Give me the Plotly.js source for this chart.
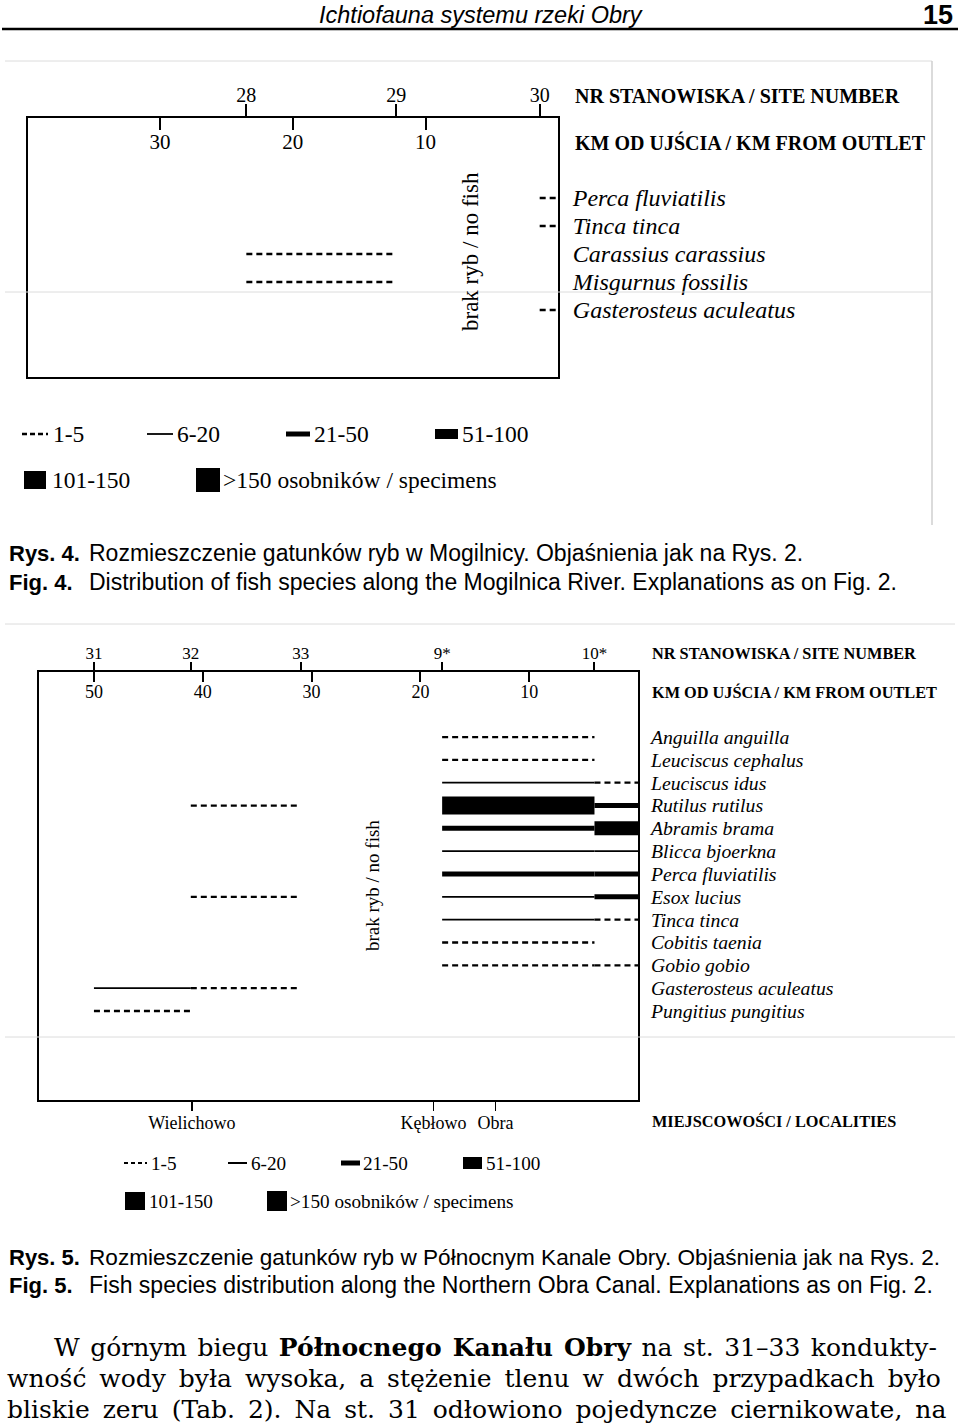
<!DOCTYPE html>
<html><head><meta charset="utf-8">
<script src="https://cdn.plot.ly/plotly-3.0.1.min.js"></script>
<style>html,body{margin:0;padding:0;background:#fff}#chart{width:960px;height:1425px}</style>
</head><body><div id="chart"></div>
<script>
// ---------- Fig. 4 data (Mogilnica) ----------
const fig4SiteLabels = ['28', '29', '30'];
const fig4SiteKm = [23.5, 12.2, 1.4];
const fig4KmTicks = [30, 20, 10];
const fig4Species = ['Perca fluviatilis', 'Tinca tinca', 'Carassius carassius', 'Misgurnus fossilis', 'Gasterosteus aculeatus'];
// abundance class per species at each site: 0 none, 1 '1-5', 2 '6-20', 3 '21-50', 4 '51-100', 5 '101-150', 6 '>150'
const fig4Site28 = [0, 0, 1, 1, 0];
const fig4Site29 = [0, 0, 0, 0, 0];
const fig4Site30 = [1, 1, 0, 0, 1];

// ---------- Fig. 5 data (Północny Kanał Obry) ----------
const fig5SiteLabels = ['31', '32', '33', '9*', '10*'];
const fig5SiteKm = [50, 41.1, 31.0, 18.0, 4.0];
const fig5KmTicks = [50, 40, 30, 20, 10];
const fig5Localities = ['Wielichowo', 'Kębłowo', 'Obra'];
const fig5LocalityKm = [41.0, 18.8, 13.1];
const fig5Species = ['Anguilla anguilla', 'Leuciscus cephalus', 'Leuciscus idus', 'Rutilus rutilus', 'Abramis brama',
  'Blicca bjoerkna', 'Perca fluviatilis', 'Esox lucius', 'Tinca tinca', 'Cobitis taenia', 'Gobio gobio',
  'Gasterosteus aculeatus', 'Pungitius pungitius'];
const fig5Site31 = [0, 0, 0, 0, 0, 0, 0, 0, 0, 0, 0, 2, 1];
const fig5Site32 = [0, 0, 0, 1, 0, 0, 0, 1, 0, 0, 0, 1, 0];
const fig5Site33 = [0, 0, 0, 0, 0, 0, 0, 0, 0, 0, 0, 0, 0];
const fig5Site9 = [1, 1, 2, 6, 3, 2, 3, 2, 2, 1, 1, 0, 0];
const fig5Site10 = [0, 0, 1, 3, 5, 2, 3, 3, 1, 0, 1, 0, 0];

const classLabels = ['1-5', '6-20', '21-50', '51-100', '101-150', '>150 osobników / specimens'];
const noFishLabel = 'brak ryb / no fish';

// ---------- styling ----------
const classWidth = [0, 2.3, 1.8, 5, 9, 14, 18];
const DASH = '6px,4px';
const SERIF = 'Liberation Serif, Times New Roman, serif';
const SANS = 'Liberation Sans, Arial, sans-serif';
const W = 960, H = 1425;
const X = px => px / W;
const Y = py => 1 - py / H;

function segTraces(species, siteKm, rows, endKm, xa, ya) {
  const out = [];
  rows.forEach((row, s) => {
    const x0 = siteKm[s];
    const x1 = s + 1 < siteKm.length ? siteKm[s + 1] : endKm;
    row.forEach((cls, i) => {
      if (!cls) return;
      out.push({
        type: 'scatter', mode: 'lines', x: [x0, x1], y: [i, i], xaxis: xa, yaxis: ya,
        line: {color: '#000', width: classWidth[cls], dash: cls === 1 ? DASH : 'solid'},
        hoverinfo: 'skip', showlegend: false, cliponaxis: false
      });
    });
  });
  return out;
}
// invisible carrier traces so that the overlaying tick axes are drawn
function carrier(xs, xa, ya) {
  return {type: 'scatter', mode: 'markers', x: xs, y: xs.map(() => null), xaxis: xa, yaxis: ya,
    marker: {opacity: 0}, hoverinfo: 'skip', showlegend: false};
}

const traces = [].concat(
  segTraces(fig4Species, fig4SiteKm, [fig4Site28, fig4Site29, fig4Site30], 0, 'x', 'y'),
  segTraces(fig5Species, fig5SiteKm, [fig5Site31, fig5Site32, fig5Site33, fig5Site9, fig5Site10], 0, 'x2', 'y2'),
  [carrier(fig4SiteKm, 'x3', 'y'), carrier(fig5SiteKm, 'x4', 'y2'), carrier(fig5LocalityKm, 'x5', 'y2')]
);

function ann(text, x, y, size, o) {
  o = o || {};
  return Object.assign({
    text: text, x: X(x), y: Y(y), xref: 'paper', yref: 'paper',
    xanchor: 'left', yanchor: 'middle', showarrow: false,
    font: {family: o.family || SERIF, size: size, color: '#000', weight: o.weight || 'normal', style: o.style || 'normal'}
  }, o.extra || {});
}
function rect(x0, y0, x1, y1) {
  return {type: 'rect', xref: 'paper', yref: 'paper', x0: X(x0), x1: X(x1), y0: Y(y0), y1: Y(y1),
    fillcolor: '#000', line: {width: 0}};
}
function hline(x0, x1, y, w, color, dash) {
  return {type: 'line', xref: 'paper', yref: 'paper', x0: X(x0), x1: X(x1), y0: Y(y), y1: Y(y),
    line: {color: color || '#000', width: w, dash: dash || 'solid'}};
}
function vline(x, y0, y1, w, color) {
  return {type: 'line', xref: 'paper', yref: 'paper', x0: X(x), x1: X(x), y0: Y(y0), y1: Y(y1),
    line: {color: color, width: w}};
}

const baseAxis = {showgrid: false, zeroline: false, automargin: false, fixedrange: true, color: '#000'};
const idx = arr => arr.map((_, i) => i);

// body-text lines (justified look: thin spaces widen the word gaps)
const TS = '\u2009', HS = '\u200A';
const bodyLine1 = ['W', 'górnym', 'biegu', '<b>Północnego', 'Kanału', 'Obry</b>', 'na', 'st.', '31–33', 'kondukty-'].join(' ' + HS);
const bodyLine2 = ['wność', 'wody', 'była', 'wysoka,', 'a', 'stężenie', 'tlenu', 'w', 'dwóch', 'przypadkach', 'było'].join(' ' + TS);
const bodyLine3 = ['bliskie', 'zeru', '(Tab.', '2).', 'Na', 'st.', '31', 'odłowiono', 'pojedyncze', 'ciernikowate,', 'na'].join(' ' + TS);

const layout = {
  width: W, height: H, margin: {l: 0, r: 0, t: 0, b: 0},
  paper_bgcolor: '#fff', plot_bgcolor: 'rgba(0,0,0,0)', showlegend: false,
  // Fig 4 axes
  xaxis: Object.assign({}, baseAxis, {
    domain: [X(28), X(558)], range: [39.95, 0.02], anchor: 'y', side: 'top',
    showline: true, mirror: true, linewidth: 2, linecolor: '#000',
    tickmode: 'array', tickvals: fig4KmTicks, ticktext: fig4KmTicks.map(String),
    ticks: 'inside', ticklen: 12, tickwidth: 2, tickcolor: '#000',
    ticklabelposition: 'inside', ticklabelstandoff: 6,
    tickfont: {family: SERIF, size: 21, color: '#000'}
  }),
  xaxis3: Object.assign({}, baseAxis, {
    overlaying: 'x', anchor: 'y', side: 'top', range: [39.95, 0.02], showline: false,
    tickmode: 'array', tickvals: fig4SiteKm, ticktext: fig4SiteLabels,
    ticks: 'outside', ticklen: 13, tickwidth: 2, tickcolor: '#000', ticklabelstandoff: -6,
    tickfont: {family: SERIF, size: 20, color: '#000'}
  }),
  yaxis: Object.assign({}, baseAxis, {
    domain: [Y(377), Y(118)], range: [6.393, -2.857], anchor: 'x', side: 'right',
    showline: true, mirror: true, linewidth: 2, linecolor: '#000',
    tickmode: 'array', tickvals: idx(fig4Species), ticktext: fig4Species, ticks: '',
    ticklabelstandoff: 8,
    tickfont: {family: SERIF, size: 24, color: '#000', style: 'italic'}
  }),
  // Fig 5 axes
  xaxis2: Object.assign({}, baseAxis, {
    domain: [X(39), X(638)], range: [55.05, 0.0], anchor: 'y2', side: 'top',
    showline: true, mirror: true, linewidth: 2, linecolor: '#000',
    tickmode: 'array', tickvals: fig5KmTicks, ticktext: fig5KmTicks.map(String),
    ticks: 'inside', ticklen: 10, tickwidth: 2, tickcolor: '#000',
    ticklabelposition: 'inside', ticklabelstandoff: 4,
    tickfont: {family: SERIF, size: 18, color: '#000'}
  }),
  xaxis4: Object.assign({}, baseAxis, {
    overlaying: 'x2', anchor: 'y2', side: 'top', range: [55.05, 0.0], showline: false,
    tickmode: 'array', tickvals: fig5SiteKm, ticktext: fig5SiteLabels,
    ticks: 'outside', ticklen: 9, tickwidth: 2, tickcolor: '#000', ticklabelstandoff: -4,
    tickfont: {family: SERIF, size: 17, color: '#000'}
  }),
  xaxis5: Object.assign({}, baseAxis, {
    overlaying: 'x2', anchor: 'y2', side: 'bottom', range: [55.05, 0.0], showline: false,
    tickmode: 'array', tickvals: fig5LocalityKm, ticktext: fig5Localities,
    ticks: 'outside', ticklen: 10, tickwidth: 1.5, tickcolor: '#000', ticklabelstandoff: -4,
    tickfont: {family: SERIF, size: 18, color: '#000'}
  }),
  yaxis2: Object.assign({}, baseAxis, {
    domain: [Y(1100), Y(672)], range: [15.9, -2.85], anchor: 'x2', side: 'right',
    showline: true, mirror: true, linewidth: 2, linecolor: '#000',
    tickmode: 'array', tickvals: idx(fig5Species), ticktext: fig5Species, ticks: '',
    ticklabelstandoff: 7,
    tickfont: {family: SERIF, size: 19.7, color: '#000', style: 'italic'}
  }),
  shapes: [
    // page header rule
    hline(2, 958, 29, 2.5, '#000'),
    // faint scan frame lines
    hline(5, 932, 61, 1, '#dcdcdc'), vline(932, 61, 525, 1.5, '#cfcfcf'), hline(5, 932, 292, 1, '#dcdcdc'),
    hline(5, 955, 624, 1, '#dcdcdc'), hline(5, 955, 1037, 1, '#dcdcdc'),
    // Fig 4 legend symbols
    hline(22, 48, 434, 2.3, '#000', '5px,3px'),
    hline(147, 173, 434, 1.8, '#000'),
    rect(286, 431.5, 310, 436.5),
    rect(435, 429, 458, 439),
    rect(24, 471, 46, 489),
    rect(196, 468, 220, 492),
    // Fig 5 legend symbols
    hline(124, 147, 1163, 2, '#000', '4px,3px'),
    hline(228, 247, 1163, 2, '#000'),
    rect(341, 1160.5, 360, 1165.5),
    rect(463, 1157, 482, 1169),
    rect(125, 1192, 145, 1210),
    rect(267, 1191, 287, 1211)
  ],
  annotations: [
    // header
    ann('Ichtiofauna systemu rzeki Obry', 481, 15, 23.5, {family: SANS, style: 'italic', extra: {xanchor: 'center'}}),
    ann('<b>15</b>', 955, 15, 27, {family: SANS, extra: {xanchor: 'right'}}),
    // Fig 4 side titles
    ann('<b>NR STANOWISKA / SITE NUMBER</b>', 573, 96, 20),
    ann('<b>KM OD UJŚCIA / KM FROM OUTLET</b>', 573, 142, 20),
    ann(noFishLabel, 470, 252, 23, {extra: {textangle: -90, xanchor: 'center'}}),
    // Fig 4 legend text
    ann(classLabels[0], 51, 434, 23.5), ann(classLabels[1], 175, 434, 23.5),
    ann(classLabels[2], 312, 434, 23.5), ann(classLabels[3], 460, 434, 23.5),
    ann(classLabels[4], 50, 480, 23.5), ann(classLabels[5], 221, 480, 23.5),
    // caption 4
    ann('<b>Rys. 4.</b>', 7, 553, 22, {family: SANS}),
    ann('Rozmieszczenie gatunków ryb w Mogilnicy. Objaśnienia jak na Rys. 2.', 87, 553, 23, {family: SANS}),
    ann('<b>Fig. 4.</b>', 7, 582, 22, {family: SANS}),
    ann('Distribution of fish species along the Mogilnica River. Explanations as on Fig. 2.', 87, 582, 23, {family: SANS}),
    // Fig 5 side titles
    ann('<b>NR STANOWISKA / SITE NUMBER</b>', 650, 654, 16.3),
    ann('<b>KM OD UJŚCIA / KM FROM OUTLET</b>', 650, 692, 16.3),
    ann('<b>MIEJSCOWOŚCI / LOCALITIES</b>', 650, 1121, 16.3),
    ann(noFishLabel, 372, 886, 19, {extra: {textangle: -90, xanchor: 'center'}}),
    // Fig 5 legend text
    ann(classLabels[0], 149, 1163, 19.2), ann(classLabels[1], 249, 1163, 19.2),
    ann(classLabels[2], 361, 1163, 19.2), ann(classLabels[3], 484, 1163, 19.2),
    ann(classLabels[4], 147, 1201, 19.2), ann(classLabels[5], 288, 1201, 19.2),
    // caption 5
    ann('<b>Rys. 5.</b>', 7, 1257, 22, {family: SANS}),
    ann('Rozmieszczenie gatunków ryb w Północnym Kanale Obry. Objaśnienia jak na Rys. 2.', 87, 1257, 22.6, {family: SANS}),
    ann('<b>Fig. 5.</b>', 7, 1285, 22, {family: SANS}),
    ann('Fish species distribution along the Northern Obra Canal. Explanations as on Fig. 2.', 87, 1285, 23, {family: SANS}),
    // body text
    ann(bodyLine1, 52, 1347, 25, {family: 'DejaVu Serif, serif'}),
    ann(bodyLine2, 5, 1378, 25, {family: 'DejaVu Serif, serif'}),
    ann(bodyLine3, 5, 1409, 25, {family: 'DejaVu Serif, serif'})
  ]
};

Plotly.newPlot('chart', traces, layout, {staticPlot: true, displayModeBar: false});
</script>
</body></html>
